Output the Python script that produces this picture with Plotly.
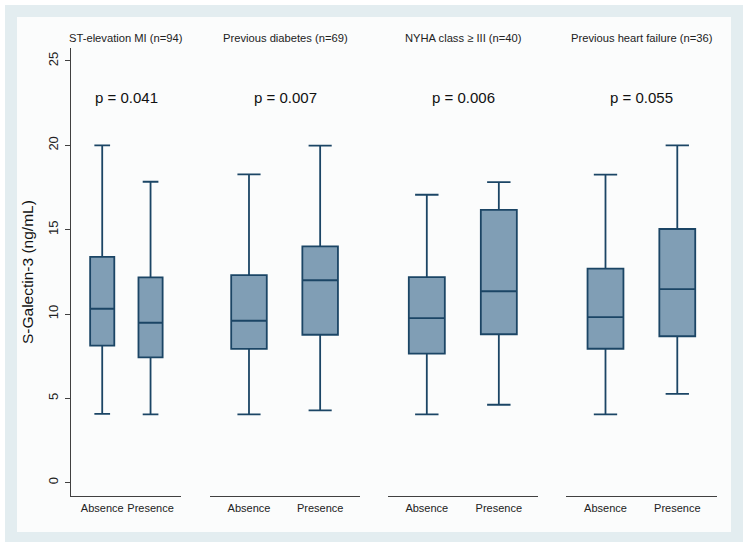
import plotly.graph_objects as go

# ---- data ----
panel_titles = ["ST-elevation MI (n=94)", "Previous diabetes (n=69)",
                "NYHA class \u2265 III (n=40)", "Previous heart failure (n=36)"]
p_values = ["p = 0.041", "p = 0.007", "p = 0.006", "p = 0.055"]
groups = ["Absence", "Presence"]

lower_whisker = [[4.08, 4.05], [4.05, 4.29], [4.05, 4.62], [4.05, 5.26]]
q1_vals       = [[8.12, 7.43], [7.93, 8.77], [7.65, 8.80], [7.94, 8.68]]
median_vals   = [[10.31, 9.48], [9.60, 12.00], [9.76, 11.35], [9.82, 11.48]]
q3_vals       = [[13.39, 12.17], [12.31, 14.01], [12.19, 16.17], [12.69, 15.04]]
upper_whisker = [[20.0, 17.84], [18.28, 19.98], [17.07, 17.82], [18.26, 20.0]]

y_ticks = [0, 5, 10, 15, 20, 25]

# ---- layout geometry (pixels of a 750x548 canvas) ----
W, H = 750, 548
dom_px = [(71, 181), (210, 360), (388, 538), (566, 717)]
x_ranges = [[-0.646, 1.63], [-0.548, 1.56], [-0.539, 1.544], [-0.55, 1.553]]
y_top_px, y_bot_px = 48, 496
y_range = [-0.79, 25.77]

FILL = "#809eb5"
LINE = "#1b4565"
AXIS = "#404040"
FONT = "Liberation Sans, Arial, sans-serif"

fig = go.Figure()
layout = {}
annotations = []
for i in range(4):
    n = "" if i == 0 else str(i + 1)
    xa, ya = "x" + n, "y" + n
    fig.add_trace(go.Box(
        x=groups,
        q1=q1_vals[i], median=median_vals[i], q3=q3_vals[i],
        lowerfence=lower_whisker[i], upperfence=upper_whisker[i],
        fillcolor=FILL, line=dict(color=LINE, width=1.8),
        width=0.5, whiskerwidth=0.65, boxpoints=False,
        xaxis=xa, yaxis=ya, showlegend=False,
    ))
    layout["xaxis" + n] = dict(
        domain=[dom_px[i][0] / W, dom_px[i][1] / W],
        range=x_ranges[i], type="category",
        showline=True, linecolor=AXIS, linewidth=1.3,
        ticks="", showgrid=False, zeroline=False, tickangle=0,
        ticklabelstandoff=2,
        tickfont=dict(family=FONT, size=11, color="#222"),
        anchor=ya, fixedrange=True,
    )
    ydict = dict(
        domain=[1 - y_bot_px / H, 1 - y_top_px / H],
        range=y_range, showgrid=False, zeroline=False,
        anchor=xa, fixedrange=True,
    )
    if i == 0:
        ydict.update(showline=True, linecolor=AXIS, linewidth=1.3,
                     ticks="outside", ticklen=5, tickcolor=AXIS, tickwidth=1.2,
                     tickvals=y_ticks, tickangle=-90, ticklabelstandoff=2,
                     tickfont=dict(family=FONT, size=13, color="#222"))
    else:
        ydict.update(showline=False, showticklabels=False, ticks="")
    layout["yaxis" + n] = ydict

    annotations.append(dict(
        text=panel_titles[i], xref=xa + " domain", x=0.5,
        yref="paper", y=1 - 38 / H, showarrow=False,
        font=dict(family=FONT, size=11.2, color="#222"),
        xanchor="center", yanchor="middle"))
    annotations.append(dict(
        text=p_values[i], xref=xa + " domain", x=0.5,
        yref=ya, y=22.86, showarrow=False,
        font=dict(family=FONT, size=15, color="#111"),
        xanchor="center", yanchor="middle"))

annotations.append(dict(
    text="S-Galectin-3 (ng/mL)", xref="paper", yref="paper",
    x=27 / W, y=1 - 272 / H, textangle=-90, showarrow=False,
    font=dict(family=FONT, size=15.5, color="#111"),
    xanchor="center", yanchor="middle"))

shapes = [
    dict(type="rect", xref="paper", yref="paper", layer="below",
         x0=5 / W, x1=743 / W, y0=1 - 542 / H, y1=1 - 5 / H,
         fillcolor="#e3edf0", line=dict(width=0)),
    dict(type="rect", xref="paper", yref="paper", layer="below",
         x0=17 / W, x1=731 / W, y0=1 - 532 / H, y1=1 - 17 / H,
         fillcolor="#fbfcfc", line=dict(width=0)),
]

fig.update_layout(
    **layout,
    annotations=annotations, shapes=shapes,
    width=W, height=H,
    margin=dict(l=0, r=0, t=0, b=0),
    paper_bgcolor="white", plot_bgcolor="rgba(0,0,0,0)",
    showlegend=False,
)
fig.write_html("out.html", config={"displayModeBar": False},
               post_script="document.body.style.margin='0';document.body.style.padding='0';")
